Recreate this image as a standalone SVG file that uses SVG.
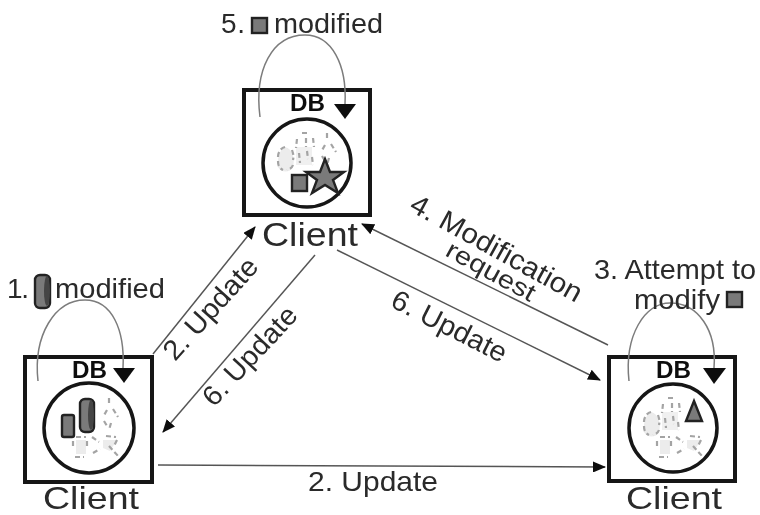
<svg xmlns="http://www.w3.org/2000/svg" width="760" height="515" viewBox="0 0 760 515">
<defs>
<marker id="ah" viewBox="0 0 13 11" refX="12" refY="5.5" markerWidth="13" markerHeight="11" markerUnits="userSpaceOnUse" orient="auto"><path d="M0,0L13,5.5L0,11z" fill="#111"/></marker>
<filter id="soft" x="0" y="0" width="100%" height="100%" filterUnits="userSpaceOnUse" primitiveUnits="userSpaceOnUse"><feGaussianBlur stdDeviation="0.55"/></filter>
<g id="figA"><path d="M-22,-16c-6,2-8,14-7,20c3,6 12,6 15,0c2-8 0-18-8-20z" fill="#ececec"/><path d="M-22,-16c-4,1-7,5-7,10M-29,-2c0,4 1,7 5,9M-15,-13c1,3 2,6 1,10M-14,2c-1,3-3,4-6,5" class="d"/></g>
<g id="figB"><path d="M-11,-16h16v18h-16z" fill="#f0f0f0"/><path d="M-5,-30h7M-10,-24l-1,9M-1,-25v9M6,-25l1,9M-8,-10l1,10M0,-12l1,8M5,-6l1,8" class="d"/></g>
<g id="figC"><path d="M20,-30v6M18,-18l-4,7M24,-19l5,8M15,-7l3,5M22,-5l-2,7" class="d"/></g>
<g id="figD"><path d="M-13,12h10v14h-10z M14,12h14l-7,11l-7,-3z" fill="#ececec"/><path d="M-13,9h10M-16,13v8M-2,13v8M-14,29h9M3,9l7,5M4,25l7,-4M17,8l10,1M28,12l-3,6M20,18l10,11" class="d"/></g>
</defs>
<style>
text{font-family:"Liberation Sans",Arial,sans-serif;fill:#2a2a2a}
.box{fill:#fff;stroke:#161616;stroke-width:4}
.lens{fill:#fff;stroke:#161616;stroke-width:3.5}
.loop{fill:none;stroke:#7c7c7c;stroke-width:1.5}
.head{fill:#111}
.conn{fill:none;stroke:#555;stroke-width:1.5;marker-end:url(#ah)}
.d{fill:none;stroke:#a4a4a4;stroke-width:2.2;stroke-dasharray:5 3}
.obj{fill:#7a7a7a;stroke:#222;stroke-width:2.4}
.lab{font-size:28px}
.cl{font-size:33px}
.cb{font-size:30.5px}
.db{font-size:23px;font-weight:bold;fill:#111}
</style>
<g filter="url(#soft)">
<g id="connectors">
<path class="conn" d="M153,354L255,227"/>
<path class="conn" d="M315,255L163,432"/>
<path class="conn" d="M337,250L600,380"/>
<path class="conn" d="M608,345L362,224"/>
<path class="conn" d="M158,465L605,467"/>
</g>
<g id="client-top">
<rect class="box" x="244" y="90" width="126" height="125"/>
<circle class="lens" cx="307" cy="163" r="44"/>
<use href="#figA" x="307" y="163"/><use href="#figB" x="307" y="163"/><use href="#figC" x="307" y="163"/>
<rect class="obj" x="292" y="175" width="15" height="16"/>
<path class="obj" d="M325,159L330,172L344,172L333,180L338,193L325,185L312,193L317,180L306,172L320,172Z"/>
<path class="loop" d="M260,117C254,70 272,35 305,35C332,35 347,65 345,104"/>
<path class="head" d="M334,104H356L345,119Z"/>
<text class="db" x="290" y="111" textLength="35" lengthAdjust="spacingAndGlyphs">DB</text>
<text class="cl" x="262" y="246" textLength="96" lengthAdjust="spacingAndGlyphs">Client</text>
</g>
<g id="client-left">
<rect class="box" x="25" y="357" width="127" height="125"/>
<circle class="lens" cx="89" cy="428" r="45"/>
<use href="#figC" x="89" y="428"/><use href="#figD" x="89" y="428"/>
<rect class="obj" x="62" y="415" width="12" height="22" rx="2"/>
<rect class="obj" x="80" y="399" width="14" height="33" rx="5"/><ellipse cx="91" cy="415" rx="3" ry="15" fill="#444"/>
<path class="loop" d="M38,381C33,335 55,300 85,300C112,300 125,330 123,368"/>
<path class="head" d="M113,368H135L124,383Z"/>
<text class="db" x="72" y="378" textLength="35" lengthAdjust="spacingAndGlyphs">DB</text>
<text class="cb" x="43" y="508.5" textLength="96" lengthAdjust="spacingAndGlyphs">Client</text>
</g>
<g id="client-right">
<rect class="box" x="609" y="357" width="126" height="124"/>
<circle class="lens" cx="673" cy="428" r="44"/>
<use href="#figA" x="673" y="428"/><use href="#figB" x="673" y="428"/><use href="#figD" x="673" y="428"/>
<path class="obj" d="M694,401L702,421H686Z"/>
<path class="loop" d="M629,381C624,335 645,303 670,303C698,303 717,330 714,368"/>
<path class="head" d="M703,368H726L714,384Z"/>
<text class="db" x="656" y="378" textLength="35" lengthAdjust="spacingAndGlyphs">DB</text>
<text class="cb" x="626" y="508.5" textLength="96" lengthAdjust="spacingAndGlyphs">Client</text>
</g>
<g id="labels">
<text class="lab" x="221" y="33" textLength="24">5.</text>
<rect class="obj" x="252" y="18" width="15" height="15"/>
<text class="lab" x="274" y="33" textLength="109" lengthAdjust="spacingAndGlyphs">modified</text>
<text class="lab" x="7" y="298" textLength="22">1.</text>
<rect class="obj" x="35" y="275" width="15" height="33" rx="5"/><ellipse cx="47" cy="291" rx="3" ry="15" fill="#444"/>
<text class="lab" x="55" y="298" textLength="110" lengthAdjust="spacingAndGlyphs">modified</text>
<text class="lab" x="594" y="279" textLength="162" lengthAdjust="spacingAndGlyphs">3. Attempt to</text>
<text class="lab" x="634" y="309" textLength="86" lengthAdjust="spacingAndGlyphs">modify</text>
<rect class="obj" x="727" y="292" width="15" height="15"/>
<text class="lab" transform="translate(175,362) rotate(-48)" textLength="127" lengthAdjust="spacingAndGlyphs">2. Update</text>
<text class="lab" transform="translate(214,408) rotate(-47)" textLength="125" lengthAdjust="spacingAndGlyphs">6. Update</text>
<text class="lab" transform="translate(408,210) rotate(29)" textLength="192" lengthAdjust="spacingAndGlyphs">4. Modification</text>
<text class="lab" style="font-size:25px" transform="translate(444,255) rotate(28.7)" textLength="98" lengthAdjust="spacingAndGlyphs">request</text>
<text class="lab" transform="translate(389,306) rotate(27)" textLength="126" lengthAdjust="spacingAndGlyphs">6. Update</text>
<text class="lab" x="308" y="491" textLength="130" lengthAdjust="spacingAndGlyphs">2. Update</text>
</g>
</g>
</svg>
